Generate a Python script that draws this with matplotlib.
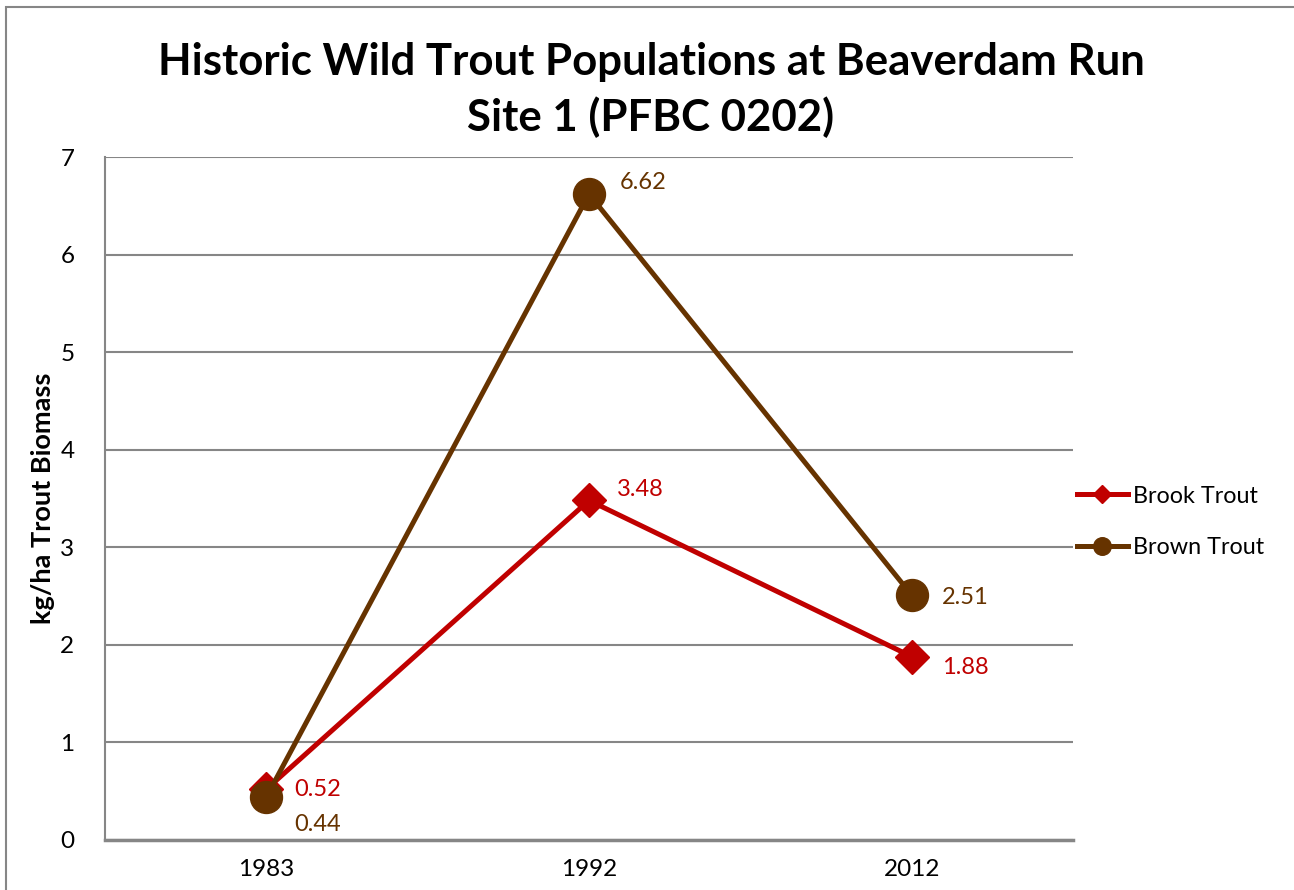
import matplotlib
matplotlib.use("Agg")
import matplotlib.pyplot as plt
from matplotlib.patches import Rectangle

# survey years and biomass values (kg/ha)
years = ["1983", "1992", "2012"]
brook_trout = [0.52, 3.48, 1.88]
brown_trout = [0.44, 6.62, 2.51]
y_ticks = [0, 1, 2, 3, 4, 5, 6, 7]

# label offsets in points (dx, dy) for each data label
brook_offsets = [(20, 0), (20, 8), (22, -8)]
brown_offsets = [(20, -20), (22, 8), (22, -2)]

BROOK = "#C00000"
BROWN = "#663300"
GRID = "#868686"

plt.rcParams["font.family"] = ["Lato", "DejaVu Sans"]

W, H = 1294, 890
fig = plt.figure(figsize=(W / 100, H / 100), dpi=100)

# outer chart border
fig.patches.append(Rectangle((6 / W, -0.1), 1.2, 1 - 7 / H + 0.1, transform=fig.transFigure,
                             fill=False, edgecolor=GRID, linewidth=1.5))

ax = fig.add_axes([105 / W, 1 - 840 / H, (1073 - 105) / W, (840 - 157) / H])
x = list(range(len(years)))

ax.plot(x, brook_trout, color=BROOK, linewidth=3.6, marker="D", markersize=17,
        label="Brook Trout", zorder=3)
ax.plot(x, brown_trout, color=BROWN, linewidth=3.6, marker="o", markersize=23,
        label="Brown Trout", zorder=4)

for xi, v, off in zip(x, brook_trout, brook_offsets):
    ax.annotate(f"{v:.2f}", (xi, v), xytext=off, textcoords="offset points",
                ha="left", va="center", color=BROOK, fontsize=17)
for xi, v, off in zip(x, brown_trout, brown_offsets):
    ax.annotate(f"{v:.2f}", (xi, v), xytext=off, textcoords="offset points",
                ha="left", va="center", color=BROWN, fontsize=17)

ax.set_xlim(-0.5, 2.5)
ax.set_ylim(0, 7)
ax.set_xticks(x)
ax.set_xticklabels(years)
ax.set_yticks(y_ticks)
ax.tick_params(axis="both", length=0, labelsize=17.5, pad=14)
ax.tick_params(axis="y", pad=22)
ax.yaxis.grid(True, color=GRID, linewidth=1.5)
ax.set_axisbelow(True)
for s in ["top", "right"]:
    ax.spines[s].set_visible(False)
ax.spines["left"].set_color(GRID)
ax.spines["left"].set_linewidth(1.5)
ax.spines["bottom"].set_color(GRID)
ax.spines["bottom"].set_linewidth(2.5)

ax.set_ylabel("kg/ha Trout Biomass", fontsize=19.5, fontweight="bold", labelpad=4)

fig.text(651 / W, 1 - 90 / H, "Historic Wild Trout Populations at Beaverdam Run\nSite 1 (PFBC 0202)",
         ha="center", va="center", fontsize=31.5, fontweight="bold", linespacing=1.4)

leg = ax.legend(loc="center left", bbox_to_anchor=(0.999, 0.466), frameon=False, fontsize=16.8,
                handlelength=2.2, handletextpad=0.2, labelspacing=1.3, borderaxespad=0.0,
                borderpad=0.2, markerscale=0.55)

fig.savefig("out.png", dpi=100)
